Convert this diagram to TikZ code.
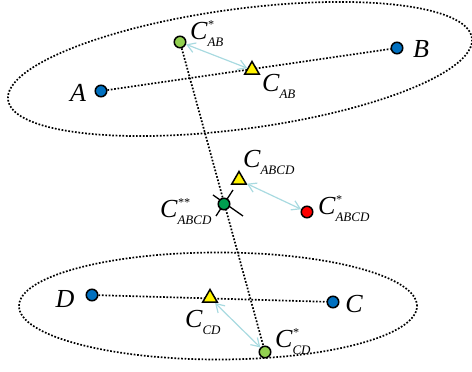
\documentclass[tikz,border=0pt]{standalone}
\usepackage{fontspec}
\setmainfont{Liberation Serif}
\usetikzlibrary{shapes.geometric,arrows.meta,backgrounds}
\definecolor{azul}{HTML}{0070C0}
\definecolor{verde}{HTML}{92D050}
\definecolor{verdeosc}{HTML}{00A050}
\definecolor{celeste}{RGB}{168,218,224}
\newcommand{\cpt}[2]{C\rlap{\raisebox{11pt}{\fontsize{12}{12}\selectfont #2}}\raisebox{-7pt}{\fontsize{13}{13}\selectfont #1}}

\begin{document}
\begin{tikzpicture}[x=1pt,y=1pt,
  punteada/.style={line width=1.7pt, dash pattern=on 1.7pt off 1.7pt},
  punto/.style={circle, draw, line width=1.5pt, minimum size=11.5pt, inner sep=0pt},
  tri/.style={regular polygon, regular polygon sides=3, draw, line width=1.5pt, fill=yellow, minimum size=17pt, inner sep=0pt},
  flecha/.style={celeste, line width=1.2pt, {Straight Barb[length=8pt,width=10pt]}-{Straight Barb[length=8pt,width=10pt]}},
  etq/.style={font=\fontsize{26}{26}\selectfont\itshape, inner sep=0pt}]
  \useasboundingbox (0,0) rectangle (472,372);
  % Puntos
  \node[punto, fill=azul] (A) at (101,281) {};
  \node[punto, fill=azul] (B) at (397,324) {};
  \node[punto, fill=azul] (D) at (92,77) {};
  \node[punto, fill=azul] (C) at (333,70) {};
  \node[punto, fill=verde] (cab1) at (180,330) {};
  \node[punto, fill=verde] (ccd1) at (265,20) {};
  \node[punto, fill=verdeosc] (cabcd2) at (224,168) {};
  \node[punto, fill=red] (cabcd1) at (307,160) {};
  % Centros
  \node[tri] (cab) at (252,302) {};
  \node[tri] (ccd) at (210,74) {};
  \node[tri] (cabcd) at (239,192) {};
  % Etiquetas
  \node[etq] (lA) at (78,279) {A};
  \node[etq] (lB) at (421,323) {B};
  \node[etq] (lD) at (65,73) {D};
  \node[etq] (lC) at (354,68) {C};
  \node[etq, anchor=base west] (lcab1) at (190,332) {\cpt{AB}{*}};
  \node[etq, anchor=base west] (lcab) at (262,280) {\cpt{AB}{}};
  \node[etq, anchor=base west] (lcabcd) at (243,204) {\cpt{ABCD}{}};
  \node[etq, anchor=base west] (lcabcd2) at (160,154) {\cpt{ABCD}{**}};
  \node[etq, anchor=base west] (lcabcd1) at (318,157) {\cpt{ABCD}{*}};
  \node[etq, anchor=base west] (lccd) at (185,44) {\cpt{CD}{}};
  \node[etq, anchor=base west] (lccd1) at (275,24) {\cpt{CD}{*}};
  % Flechas
  \draw[flecha] (cab1) -- (cab);
  \draw[flecha] (cabcd) -- (cabcd1);
  \draw[flecha] (ccd) -- (ccd1);
  % Elipses y segmentos
  \begin{pgfonlayer}{background}
    \draw[punteada, rotate around={7.6:(240,303)}] (240,303) ellipse (234 and 60);
    \draw[punteada] (218,66) ellipse (199 and 53.5);
    \draw[punteada] (A) -- (B);
    \draw[punteada] (D) -- (C);
    \draw[punteada] (cab1) -- (ccd1);
    \draw[line width=1.3pt] ([shift={(-11,9)}]cabcd2.center) -- ([shift={(19,-12)}]cabcd2.center);
    \draw[line width=1.3pt] ([shift={(9,14)}]cabcd2.center) -- ([shift={(-8,-12)}]cabcd2.center);
  \end{pgfonlayer}
\end{tikzpicture}
\end{document}
